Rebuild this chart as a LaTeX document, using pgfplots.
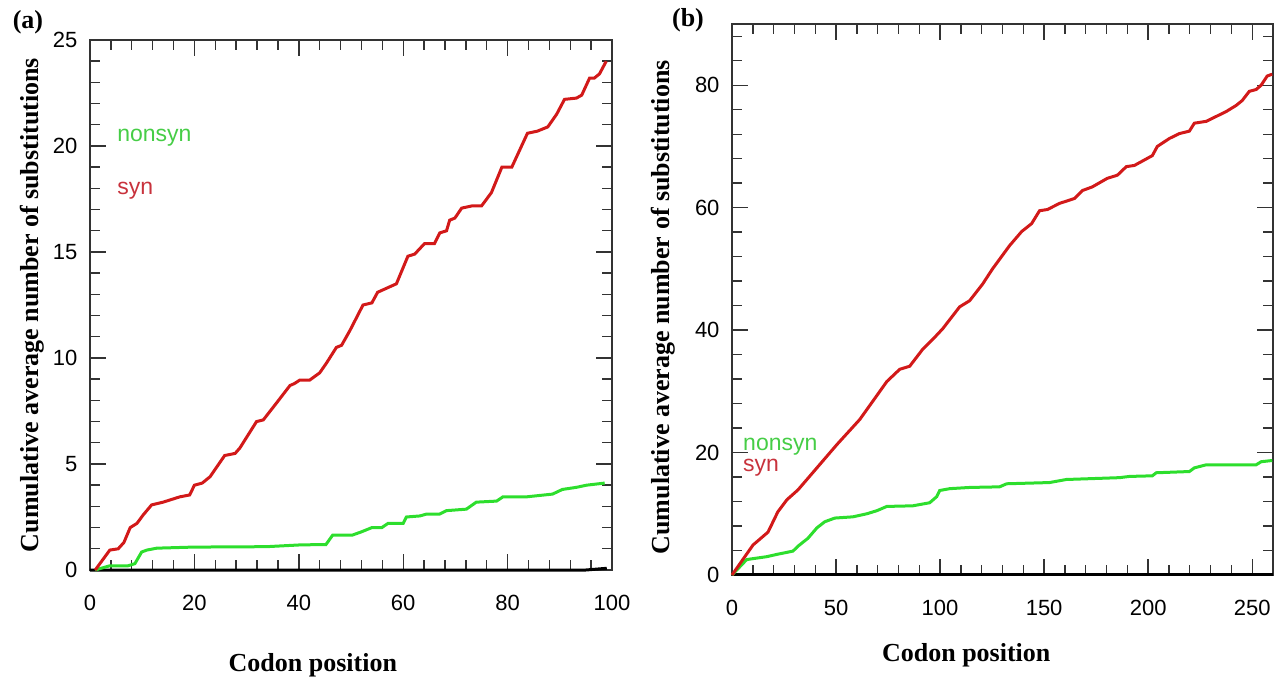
\documentclass[border=0pt]{standalone}
\usepackage{fontspec}
\setmainfont{Liberation Serif}
\newfontfamily\sans{Liberation Sans}
\usepackage{pgfplots}
\pgfplotsset{compat=1.18}

\definecolor{synred}{RGB}{210,25,25}
\definecolor{nonsyngreen}{RGB}{45,222,45}
\definecolor{syntext}{RGB}{200,50,60}
\definecolor{nonsyntext}{RGB}{70,205,70}

\pgfplotsset{
  panel/.style={
    scale only axis,
    clip=false,
    axis line style={line width=1.4pt, black!80},
    every tick/.style={line width=1.4pt, black!80},
    tick align=inside,
    major tick length=16pt,
    minor tick length=10pt,
    tick label style={font=\sans\fontsize{22}{24}\selectfont},
    /pgf/number format/assume math mode=true,
    xticklabel style={yshift=-22pt},
    yticklabel style={xshift=-9pt},
    xlabel={Codon position},
    ylabel={Cumulative average number of substitutions},
  },
  syn/.style={synred, line width=3pt},
  nonsyn/.style={nonsyngreen, line width=3pt},
  base/.style={black, line width=3pt},
}
\newcommand{\labfont}{\bfseries\fontsize{26}{28}\selectfont}
\newcommand{\txtfont}{\sans\fontsize{23}{25}\selectfont}

\begin{document}
\begin{tikzpicture}
\useasboundingbox (0,0) rectangle (1285pt,680pt);

% panel (a)
\begin{axis}[panel,
  at={(90pt,110pt)}, anchor=south west,
  width=522pt, height=530pt,
  xmin=0, xmax=100, ymin=0, ymax=25,
  xtick={0,20,...,100}, ytick={0,5,...,25},
  minor x tick num=4, minor y tick num=4,
  every axis x label/.style={at={(axis description cs:0.427,-0.179)}, anchor=center, font=\labfont},
  every axis y label/.style={at={(axis description cs:-0.111,0.5)}, anchor=center, rotate=90, font=\labfont},
]
\addplot[base] coordinates {(0,0)(95,0)(99,0.08)};
\addplot[nonsyn] coordinates {
  (1,0)(3.8,0.2)(7.3,0.2)(8.6,0.3)(9.9,0.85)(10.9,0.94)(12.8,1.03)(19.7,1.08)
  (33.8,1.1)(40,1.18)(44,1.2)(45.2,1.2)(46.5,1.65)(50.3,1.65)(52,1.8)(54,2.0)
  (55.9,2.0)(57.1,2.2)(60,2.2)(60.6,2.5)(63.2,2.55)(64.5,2.64)(67,2.64)(68.3,2.8)
  (72.1,2.87)(74,3.2)(77.9,3.25)(79.1,3.45)(83.6,3.45)(88.6,3.58)(90.5,3.8)
  (93.2,3.9)(95.1,4.0)(98.6,4.1)
};
\addplot[syn] coordinates {
  (1,0)(3.8,0.94)(5.4,1.0)(6.5,1.3)(7.7,2.0)(9,2.2)(10.2,2.6)(11.8,3.07)(14,3.2)
  (17.2,3.45)(19.1,3.54)(20,4.0)(21.5,4.1)(23,4.4)(25.8,5.4)(27.8,5.5)(28.7,5.75)
  (31.9,7.0)(33.2,7.08)(35.8,7.9)(38.3,8.7)(39.2,8.8)(40.2,8.96)(42.1,8.96)(44,9.3)
  (45.3,9.76)(47.2,10.5)(48.2,10.6)(49.8,11.3)(52.3,12.5)(54,12.6)(55.1,13.1)
  (58.7,13.5)(60.9,14.8)(62.2,14.9)(64.1,15.4)(66,15.4)(67,15.9)(68.3,16.0)
  (68.9,16.5)(69.9,16.6)(71.2,17.07)(73.1,17.17)(75,17.17)(76.9,17.8)(78.9,19.0)
  (80.8,19.0)(83.8,20.6)(85.7,20.7)(87.7,20.9)(89.4,21.5)(90.9,22.2)(93.2,22.26)
  (94.2,22.4)(95.7,23.2)(96.6,23.2)(97.6,23.4)(98.9,24.0)
};
\node[font=\txtfont, text=nonsyntext, anchor=west, inner sep=0pt] at (axis cs:5.2,20.4) {nonsyn};
\node[font=\txtfont, text=syntext, anchor=west, inner sep=0pt] at (axis cs:5.2,17.9) {syn};
\end{axis}

% panel (b)
\begin{axis}[panel,
  at={(732pt,105pt)}, anchor=south west,
  width=541pt, height=551pt,
  xmin=0, xmax=260, ymin=0, ymax=90,
  xtick={0,50,...,250}, ytick={0,20,...,80},
  minor xtick={10,20,...,260}, minor ytick={4,8,...,88},
  every axis x label/.style={at={(axis description cs:0.433,-0.145)}, anchor=center, font=\labfont},
  every axis y label/.style={at={(axis description cs:-0.128,0.486)}, anchor=center, rotate=90, font=\labfont},
]
\addplot[base] coordinates {(0,0)(260,0)};
\addplot[nonsyn] coordinates {
  (0,0)(7,2.5)(8.6,2.6)(16.8,3.0)(22,3.4)(29.3,3.9)(31.7,4.7)(36.5,6.0)(40.8,7.7)
  (44.6,8.7)(49.4,9.3)(58.1,9.5)(64.8,10.0)(69.6,10.5)(74.4,11.2)(86.9,11.3)
  (95,11.8)(98.4,12.8)(99.8,13.8)(104.6,14.1)(114.2,14.3)(128.6,14.4)(132,14.9)
  (152.6,15.1)(160.7,15.6)(186.2,15.9)(191,16.1)(202,16.2)(203.9,16.7)(219.8,16.9)
  (222.2,17.5)(227.9,18.0)(251.9,18.0)(254.3,18.5)(259.6,18.7)
};
\addplot[syn] coordinates {
  (0,0)(10.1,4.9)(17.3,7.0)(22,10.3)(26.4,12.3)(31.7,13.9)(40.8,17.5)(50.4,21.3)
  (61.4,25.4)(67.7,28.4)(74.4,31.6)(80.6,33.6)(85.4,34.1)(91.7,36.9)(96.5,38.5)
  (101.2,40.2)(109.4,43.8)(114.2,44.8)(120.4,47.5)(125.2,50.0)(133.4,53.8)
  (139.2,56.1)(144,57.4)(147.8,59.5)(151.6,59.7)(157.4,60.7)(164.6,61.5)
  (168.4,62.8)(173.2,63.4)(180.4,64.8)(185.2,65.3)(189.5,66.7)(193.4,66.9)
  (202,68.5)(204.4,70)(210.2,71.3)(215,72.1)(219.8,72.5)(222.2,73.8)(227.9,74.1)
  (232.7,74.9)(237.5,75.7)(242.3,76.7)(245.2,77.5)(248.6,79)(251.9,79.3)
  (254.3,80)(257.2,81.5)(259.6,81.8)
};
\node[font=\txtfont, text=nonsyntext, anchor=west, inner sep=0pt] at (axis cs:5.3,20.9) {nonsyn};
\node[font=\txtfont, text=syntext, anchor=west, inner sep=0pt] at (axis cs:5.3,17.6) {syn};
\end{axis}

\node[font=\labfont, inner sep=0pt] at (28pt,658pt) {(a)};
\node[font=\labfont, inner sep=0pt] at (688pt,660pt) {(b)};
\end{tikzpicture}
\end{document}
